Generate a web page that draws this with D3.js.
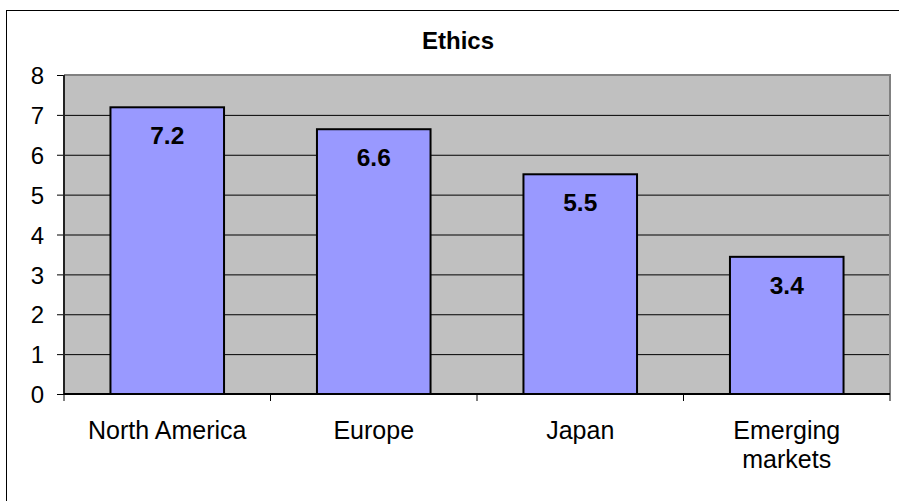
<!DOCTYPE html>
<html>
<head>
<meta charset="utf-8">
<script src="https://cdn.jsdelivr.net/npm/d3@7"></script>
<style>
  body { margin: 0; background: #fff; }
  svg text { font-family: Arial, "Liberation Sans", sans-serif; }
</style>
</head>
<body>
<div id="chart"></div>
<script>
// data
let categories = ["North America", "Europe", "Japan", "Emerging markets"];
let values = [7.19, 6.64, 5.51, 3.44];
let yTicks = [0, 1, 2, 3, 4, 5, 6, 7, 8];
let title = "Ethics";

let width = 899, height = 501;
let plot = { left: 64, right: 890, top: 75, bottom: 394 };

let svg = d3.select("#chart").append("svg")
  .attr("width", width)
  .attr("height", height);

// outer chart frame (right/bottom edges run off the picture)
svg.append("rect")
  .attr("x", 6.5).attr("y", 10.5)
  .attr("width", 920).attr("height", 520)
  .attr("fill", "#fff")
  .attr("stroke", "#000")
  .attr("stroke-width", 1);

let xScale = d3.scaleBand()
  .domain(categories)
  .range([plot.left, plot.right])
  .paddingInner(0.45)
  .paddingOuter(0.225);

let yScale = d3.scaleLinear()
  .domain([0, 8])
  .range([plot.bottom, plot.top]);

// plot background
svg.append("rect")
  .attr("x", plot.left).attr("y", plot.top)
  .attr("width", plot.right - plot.left)
  .attr("height", plot.bottom - plot.top)
  .attr("fill", "#c0c0c0");

// gridlines + y axis
let yAxis = d3.axisLeft(yScale)
  .tickValues(yTicks)
  .tickSize(-(plot.right - plot.left))
  .tickPadding(20)
  .tickFormat(d3.format("d"));

let gy = svg.append("g")
  .attr("transform", "translate(" + plot.left + ",0)")
  .call(yAxis);
gy.select(".domain").remove();
gy.selectAll(".tick line")
  .attr("stroke", "#000")
  .attr("x1", -7)
  .attr("stroke-width", 1);
gy.selectAll(".tick text")
  .attr("font-size", "24px")
  .attr("fill", "#000")
  .attr("dy", "0.36em");

// top and right plot border
svg.append("path")
  .attr("d", "M" + plot.left + "," + plot.top + "H" + plot.right + "V" + plot.bottom)
  .attr("fill", "none")
  .attr("stroke", "#808080")
  .attr("stroke-width", 2);

// bars
svg.selectAll(".bar")
  .data(values)
  .enter().append("rect")
  .attr("class", "bar")
  .attr("x", function(d, i) { return xScale(categories[i]); })
  .attr("y", function(d) { return yScale(d); })
  .attr("width", xScale.bandwidth())
  .attr("height", function(d) { return yScale(0) - yScale(d); })
  .attr("fill", "#9999ff")
  .attr("stroke", "#000")
  .attr("stroke-width", 2);

// value labels
svg.selectAll(".val")
  .data(values)
  .enter().append("text")
  .attr("class", "val")
  .attr("x", function(d, i) { return xScale(categories[i]) + xScale.bandwidth() / 2; })
  .attr("y", function(d) { return yScale(d) + 37; })
  .attr("text-anchor", "middle")
  .attr("font-size", "24.5px")
  .attr("font-weight", "bold")
  .text(function(d) { return d.toFixed(1); });

// y axis line
svg.append("line")
  .attr("x1", plot.left).attr("x2", plot.left)
  .attr("y1", plot.top).attr("y2", plot.bottom)
  .attr("stroke", "#222").attr("stroke-width", 2);

// x axis: ticks between categories
let xTicks = d3.range(categories.length + 1).map(function(i) { return plot.left + i * (plot.right - plot.left) / categories.length; });

let gx = svg.append("g");
gx.append("line")
  .attr("x1", plot.left).attr("x2", plot.right)
  .attr("y1", plot.bottom).attr("y2", plot.bottom)
  .attr("stroke", "#000").attr("stroke-width", 2);
gx.selectAll(".xt")
  .data(xTicks)
  .enter().append("line")
  .attr("x1", function(d) { return d; }).attr("x2", function(d) { return d; })
  .attr("y1", plot.bottom).attr("y2", plot.bottom + 7)
  .attr("stroke", "#000").attr("stroke-width", 1);

// category labels (Emerging markets wraps to two lines)
let labelLines = [["North America"], ["Europe"], ["Japan"], ["Emerging", "markets"]];
gx.selectAll(".cat")
  .data(categories)
  .enter().append("text")
  .attr("class", "cat")
  .attr("text-anchor", "middle")
  .attr("font-size", "25px")
  .attr("fill", "#000")
  .each(function(d, i) {
    let t = d3.select(this);
    labelLines[i].forEach(function(line, j) {
      t.append("tspan")
        .attr("x", xScale(d) + xScale.bandwidth() / 2)
        .attr("y", 439 + j * 29)
        .text(line);
    });
  });

// title
svg.append("text")
  .attr("x", 458)
  .attr("y", 49)
  .attr("text-anchor", "middle")
  .attr("font-size", "24px")
  .attr("font-weight", "bold")
  .text(title);
</script>
</body>
</html>
